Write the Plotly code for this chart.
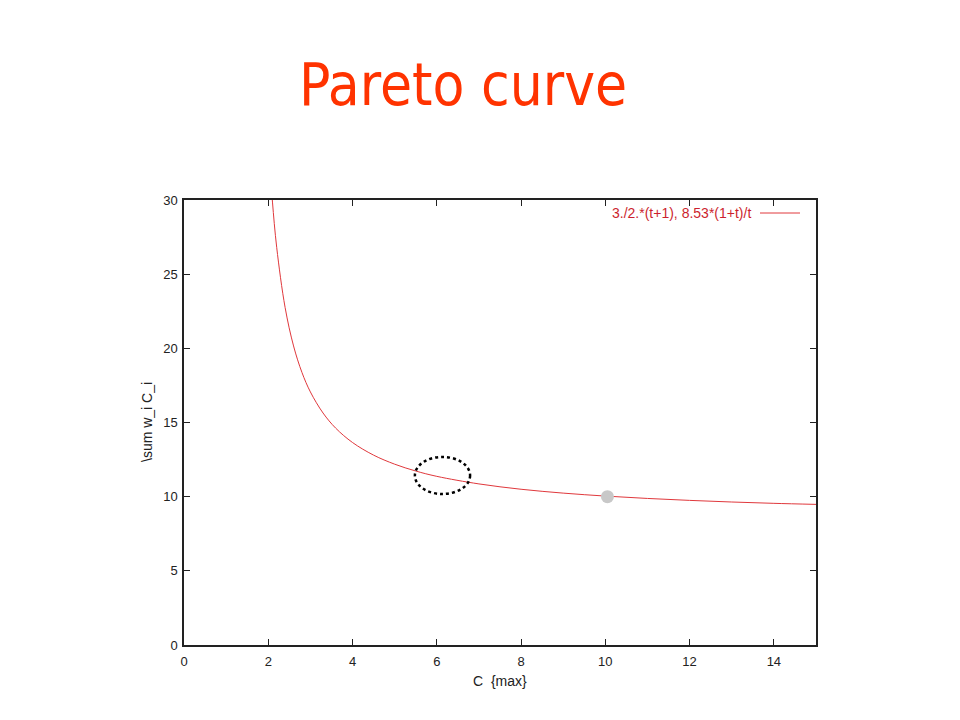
import plotly.graph_objects as go

# Curve points
curve_x = [2.05, 2.1, 2.2, 2.4, 2.6, 2.8, 3.0, 3.3, 3.6, 4.0, 4.5, 5.0, 5.5, 6.0,
           7.0, 8.0, 9.0, 10.0, 11.0, 12.0, 13.0, 14.0, 15.0]
curve_y = [31.8, 29.86, 26.81, 22.75, 20.16, 18.37, 17.06, 15.64, 14.62, 13.65,
           12.80, 12.19, 11.73, 11.37, 10.86, 10.50, 10.24, 10.04, 9.88, 9.75,
           9.64, 9.55, 9.48]

dot_x = [10.05]
dot_y = [10.0]

ellipse_x = [5.48, 6.79]
ellipse_y = [10.18, 12.68]

x_ticks = [0, 2, 4, 6, 8, 10, 12, 14]
y_ticks = [0, 5, 10, 15, 20, 25, 30]

legend_label = "3./2.*(t+1), 8.53*(1+t)/t"

OFF = 8  # page body offset compensation

L, R, T, B = 184 - OFF, 816 - OFF, 200 - OFF, 645 - OFF
PW, PH = R - L, B - T


def px(xp):
    return (xp - OFF - L) / PW


def py(yp):
    return (B - (yp - OFF)) / PH


fig = go.Figure()
fig.add_trace(go.Scatter(x=curve_x, y=curve_y, mode="lines",
                         line=dict(color="#e0383c", width=1, shape="spline"),
                         name=legend_label, showlegend=False))
fig.add_trace(go.Scatter(x=dot_x, y=dot_y, mode="markers",
                         marker=dict(color="#c8c8c8", size=13),
                         showlegend=False))

fig.add_shape(type="circle", xref="x", yref="y",
              x0=ellipse_x[0], x1=ellipse_x[1], y0=ellipse_y[0], y1=ellipse_y[1],
              line=dict(color="black", width=2.5, dash="dot"))

axis_common = dict(showline=True, linecolor="#222222", linewidth=1.5, mirror="allticks",
                   ticks="inside", ticklen=6, tickcolor="#222222", showgrid=False,
                   zeroline=False,
                   tickfont=dict(family="Liberation Sans, Arial", size=13, color="#222222"))

fig.update_xaxes(range=[0, 15], tickvals=x_ticks, ticklabelstandoff=4, **axis_common)
fig.update_yaxes(range=[0, 30], tickvals=y_ticks, ticklabelstandoff=2, **axis_common)

fig.add_annotation(text="Pareto curve", xref="paper", yref="paper",
                   x=px(463), y=py(85), showarrow=False,
                   font=dict(family="DejaVu Sans Condensed, DejaVu Sans", size=58, color="#ff3300"),
                   xanchor="center", yanchor="middle")

fig.add_annotation(text="C  {max}", xref="paper", yref="paper",
                   x=px(500), y=py(681), showarrow=False,
                   font=dict(family="Liberation Sans, Arial", size=14, color="#222222"),
                   xanchor="center", yanchor="middle")
fig.add_annotation(text="\\sum w_i C_i", xref="paper", yref="paper",
                   x=px(147), y=py(422), showarrow=False,
                   textangle=-90,
                   font=dict(family="Liberation Sans, Arial", size=14, color="#222222"),
                   xanchor="center", yanchor="middle")

fig.add_annotation(text=legend_label, xref="paper", yref="paper",
                   x=px(753), y=py(213), showarrow=False,
                   font=dict(family="Liberation Sans, Arial", size=14, color="#cc1f2e"),
                   xanchor="right", yanchor="middle")
fig.add_shape(type="line", xref="paper", yref="paper",
              x0=px(760), x1=px(800), y0=py(213), y1=py(213),
              line=dict(color="#e0383c", width=1))

fig.update_layout(width=960, height=720, autosize=False,
                  margin=dict(l=L, r=960 - R, t=T, b=720 - B),
                  paper_bgcolor="white", plot_bgcolor="white")

fig.write_html("out.html")
